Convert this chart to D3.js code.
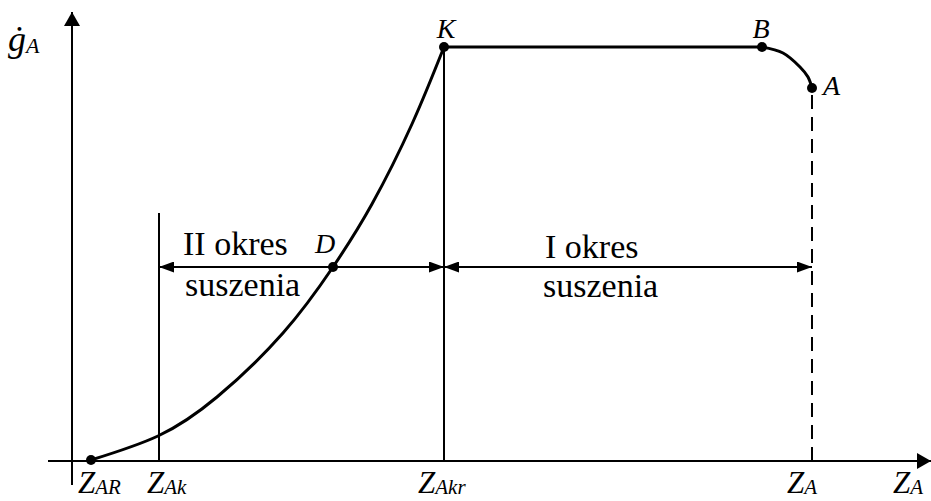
<!DOCTYPE html>
<html>
<head>
<meta charset="utf-8">
<script src="https://cdn.jsdelivr.net/npm/d3@7"></script>
<style>
  body { margin: 0; background: #fff; }
</style>
</head>
<body>
<svg id="chart" width="931" height="501"></svg>
<script>
// Drying curve: drying rate ġ_A versus moisture content Z_A (arbitrary units)

// falling-rate period (II okres suszenia), from Z_AR up to the critical point K
const fallingZ = [19, 86, 145, 211, 261, 300, 340, 372];
const fallingG = [1, 25, 64, 128, 194, 257, 337, 414];

// constant-rate period (I okres suszenia), K -> B
const constZ = [372, 690];
const constG = [414, 414];

// initial warm-up segment, B -> A
const warmZ = [690, 711, 728, 736, 740];
const warmG = [414, 408, 394, 384, 373];

// named points on the curve
const pointNames = ["K", "B", "A", "D"];
const pointZ = [372, 690, 740, 261];
const pointG = [414, 414, 373, 194];

// characteristic moisture contents on the horizontal axis
const zAR = 19, zAk = 87, zAkr = 372, zA = 740;
const zAkTop = 248;          // height of the Z_Ak marker line
const periodG = 194;         // level of the period span arrows

// axis labels under the horizontal axis
const tickMain = ["Z", "Z", "Z", "Z", "Z"];
const tickSub = ["AR", "Ak", "Akr", "A", "A"];
const tickAt = [6, 75, 346, 715, 821];

const FONT = "'Liberation Serif', 'DejaVu Serif', serif";

const svg = d3.select("#chart");

const x = d3.scaleLinear().domain([0, 860]).range([72, 932]);
const y = d3.scaleLinear().domain([0, 450]).range([461, 11]);

// arrow heads
const defs = svg.append("defs");
function marker(id, w, h) {
  defs.append("marker")
    .attr("id", id)
    .attr("viewBox", `0 ${-h} ${w} ${2 * h}`)
    .attr("refX", w).attr("refY", 0)
    .attr("markerUnits", "userSpaceOnUse")
    .attr("markerWidth", w).attr("markerHeight", 2 * h)
    .attr("orient", "auto-start-reverse")
    .append("path")
    .attr("d", `M0,${-h}L${w},0L0,${h}Z`)
    .attr("fill", "#000");
}
marker("axisHead", 14, 8);
marker("spanHead", 15, 5.5);

// axes
svg.append("line")
  .attr("x1", x(0)).attr("y1", y(-24))
  .attr("x2", x(0)).attr("y2", y(449))
  .attr("stroke", "#000").attr("stroke-width", 2)
  .attr("marker-end", "url(#axisHead)");
svg.append("line")
  .attr("x1", x(-24)).attr("y1", y(0))
  .attr("x2", x(859)).attr("y2", y(0))
  .attr("stroke", "#000").attr("stroke-width", 2)
  .attr("marker-end", "url(#axisHead)");

// vertical marker lines
svg.append("line")
  .attr("x1", x(zAk)).attr("y1", y(0))
  .attr("x2", x(zAk)).attr("y2", y(zAkTop))
  .attr("stroke", "#000").attr("stroke-width", 2);
svg.append("line")
  .attr("x1", x(zAkr)).attr("y1", y(0))
  .attr("x2", x(zAkr)).attr("y2", y(414))
  .attr("stroke", "#000").attr("stroke-width", 2);
svg.append("line")
  .attr("x1", x(zA)).attr("y1", y(0))
  .attr("x2", x(zA)).attr("y2", y(373))
  .attr("stroke", "#000").attr("stroke-width", 2)
  .attr("stroke-dasharray", "14,8");

// period span arrows
svg.append("line")
  .attr("x1", x(zAk)).attr("y1", y(periodG))
  .attr("x2", x(zAkr)).attr("y2", y(periodG))
  .attr("stroke", "#000").attr("stroke-width", 2)
  .attr("marker-start", "url(#spanHead)")
  .attr("marker-end", "url(#spanHead)");
svg.append("line")
  .attr("x1", x(zAkr)).attr("y1", y(periodG))
  .attr("x2", x(zA)).attr("y2", y(periodG))
  .attr("stroke", "#000").attr("stroke-width", 2)
  .attr("marker-start", "url(#spanHead)")
  .attr("marker-end", "url(#spanHead)");

// drying curve
const lineSmooth = d3.line().x(d => x(d[0])).y(d => y(d[1])).curve(d3.curveNatural);
const lineRound = d3.line().x(d => x(d[0])).y(d => y(d[1])).curve(d3.curveCatmullRom.alpha(0.5));
const lineStraight = d3.line().x(d => x(d[0])).y(d => y(d[1]));

svg.append("path")
  .attr("d", lineSmooth(d3.zip(fallingZ, fallingG)))
  .attr("fill", "none").attr("stroke", "#000").attr("stroke-width", 3);
svg.append("path")
  .attr("d", lineStraight(d3.zip(constZ, constG)))
  .attr("fill", "none").attr("stroke", "#000").attr("stroke-width", 3);
svg.append("path")
  .attr("d", lineRound(d3.zip(warmZ, warmG)))
  .attr("fill", "none").attr("stroke", "#000").attr("stroke-width", 3);

// dots
const dotZ = [zAR].concat(pointZ);
const dotG = [fallingG[0]].concat(pointG);
svg.selectAll("circle.dot")
  .data(d3.zip(dotZ, dotG))
  .join("circle")
  .attr("class", "dot")
  .attr("cx", d => x(d[0])).attr("cy", d => y(d[1]))
  .attr("r", 5).attr("fill", "#000");

// point labels
const labelDx = [2, -1, 11, -8];
const labelDy = [-9, -9, 7, -14];
const labelAnchor = ["middle", "middle", "start", "middle"];
pointNames.forEach((n, i) => {
  svg.append("text")
    .attr("x", x(pointZ[i]) + labelDx[i])
    .attr("y", y(pointG[i]) + labelDy[i])
    .attr("text-anchor", labelAnchor[i])
    .attr("font-family", FONT)
    .attr("font-style", "italic")
    .attr("font-size", 28)
    .text(n);
});

// y-axis title ġ_A
const yt = svg.append("text").attr("x", 8).attr("y", 51)
  .attr("font-family", FONT).attr("font-style", "italic");
yt.append("tspan").attr("font-size", 36).text("ġ");
yt.append("tspan").attr("font-size", 22).attr("dx", 0).attr("dy", 2).text("A");

// labels under the horizontal axis
tickMain.forEach((m, i) => {
  const t = svg.append("text")
    .attr("x", x(tickAt[i])).attr("y", 493)
    .attr("font-family", FONT)
    .attr("font-style", "italic");
  t.append("tspan").attr("font-size", 31).text(m);
  t.append("tspan").attr("font-size", 21).attr("dx", 0).attr("dy", 1).text(tickSub[i]);
});

// period captions
const captions = [
  { text: "II okres", z: 111, g: 206 },
  { text: "suszenia", z: 113, g: 165 },
  { text: "I okres", z: 473, g: 203 },
  { text: "suszenia", z: 471, g: 164 }
];
svg.selectAll("text.caption")
  .data(captions)
  .join("text")
  .attr("class", "caption")
  .attr("x", d => x(d.z)).attr("y", d => y(d.g))
  .attr("font-family", FONT)
  .attr("font-size", 34)
  .text(d => d.text);
</script>
</body>
</html>
